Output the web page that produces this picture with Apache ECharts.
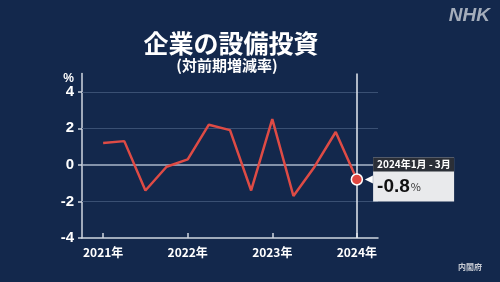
<!DOCTYPE html>
<html><head><meta charset="utf-8">
<script src="https://cdn.jsdelivr.net/npm/echarts@6/dist/echarts.min.js"></script>
<style>html,body{margin:0;padding:0;background:#13284c;}#c{width:500px;height:282px;}</style>
</head><body><div id="c"></div>
<script>
// quarter index: 0 = 2021 Jan-Mar ... 12 = 2024 Jan-Mar
const quarters = [0,1,2,3,4,5,6,7,8,9,10,11,12];
const values = [1.2, 1.3, -1.4, -0.1, 0.3, 2.2, 1.9, -1.4, 2.5, -1.7, -0.1, 1.8, -0.8];
const yearTicks = [0, 4, 8, 12];
const yearLabels = ['2021年', '2022年', '2023年', '2024年'];
const yTicks = [-4, -2, 0, 2, 4];
const lastLabel = '2024年1月 - 3月';

const FONT = '"Noto Sans CJK JP", "Liberation Sans", sans-serif';
const chart = echarts.init(document.getElementById('c'), null, {renderer: 'canvas'});
const last = values.length - 1;
const data = quarters.map((q, i) => {
  const p = {value: [q, values[i]]};
  if (i === last) {
    p.symbol = 'circle';
    p.symbolSize = 11;
    p.itemStyle = {color: '#e0463f', borderColor: '#ffffff', borderWidth: 1.5};
    p.label = {
      show: true, position: 'right', distance: 10,
      backgroundColor: '#e9eaec', padding: 0,
      formatter: '{h|' + lastLabel + '}\n{v|' + values[i].toFixed(1) + '}{p|%}',
      rich: {
        h: {backgroundColor: '#2b2f37', color: '#ffffff', fontSize: 10, fontWeight: 'bold',
            fontFamily: FONT, width: 73, height: 14, lineHeight: 14, padding: [0, 4]},
        v: {color: '#111111', fontSize: 19, fontWeight: 'bold', fontFamily: '"Liberation Sans", sans-serif',
            height: 24, lineHeight: 24, padding: [0, 0, 0, 4]},
        p: {color: '#333333', fontSize: 11, fontFamily: FONT, height: 24, lineHeight: 30, padding: [0, 32, 0, 1]}
      }
    };
  }
  return p;
});

chart.setOption({
  backgroundColor: '#13284c',
  animation: false,
  title: [
    {text: '企業の設備投資', left: 226, top: 26, textAlign: 'center',
     textStyle: {color: '#ffffff', fontSize: 25, fontWeight: 'bold', fontFamily: FONT}},
    {text: '(対前期増減率)', left: 222, top: 53, textAlign: 'center',
     textStyle: {color: '#ffffff', fontSize: 15, fontWeight: 'bold', fontFamily: FONT}},
    {text: 'NHK', right: 5, top: 1,
     textStyle: {color: '#a4adbb', fontSize: 19, fontWeight: 'bold', fontStyle: 'italic', fontFamily: '"Liberation Sans", sans-serif'}},
    {text: '内閣府', left: 453, top: 258,
     textStyle: {color: '#c8ccd4', fontSize: 8, fontWeight: 'bold', fontFamily: FONT}}
  ],
  grid: {left: 82, right: 122, top: 73.5, bottom: 44},
  xAxis: {
    type: 'value', min: -1, max: 13,
    axisLine: {show: true, onZero: false, lineStyle: {color: '#d0d6e0', width: 1.5}},
    axisTick: {show: true, customValues: yearTicks, inside: true, length: 5, lineStyle: {color: '#d0d6e0', width: 1.5}},
    axisLabel: {customValues: yearTicks, color: '#ffffff', fontSize: 12, fontWeight: 'bold', fontFamily: FONT, margin: 8,
      formatter: v => yearLabels[yearTicks.indexOf(v)]},
    splitLine: {show: false}
  },
  yAxis: {
    type: 'value', min: -4, max: 5,
    name: '%', nameLocation: 'end', nameGap: 0,
    nameTextStyle: {color: '#ffffff', fontSize: 12, fontWeight: 'bold', align: 'right', padding: [0, 8, 0, 0], verticalAlign: 'top'},
    axisLine: {show: true, onZero: false, lineStyle: {color: '#d0d6e0', width: 1.5}},
    axisTick: {show: true, customValues: yTicks, length: 4, lineStyle: {color: '#d0d6e0', width: 1.5}},
    axisLabel: {customValues: yTicks, color: '#ffffff', fontSize: 15, fontWeight: 'bold', fontFamily: '"Liberation Sans", sans-serif', margin: 8},
    splitLine: {show: false}
  },
  series: [{
    type: 'line',
    data: data,
    symbol: 'none',
    lineStyle: {color: '#de4b45', width: 2.5},
    z: 5,
    markLine: {
      silent: true, symbol: 'none', label: {show: false}, animation: false,
      data: [
        {yAxis: 4, lineStyle: {color: '#3a5073', width: 1, type: 'solid'}},
        {yAxis: 2, lineStyle: {color: '#3a5073', width: 1, type: 'solid'}},
        {yAxis: -2, lineStyle: {color: '#3a5073', width: 1, type: 'solid'}},
        {yAxis: 0, lineStyle: {color: '#aab6c8', width: 1.5, type: 'solid'}},
        {xAxis: quarters[last], lineStyle: {color: '#e6eaf0', width: 1.5, type: 'solid'}}
      ]
    },
    markPoint: {
      silent: true, animation: false,
      data: [{coord: [quarters[last], values[last]], symbol: 'triangle', symbolRotate: 90,
              symbolSize: [8, 8], symbolOffset: [12, 0], itemStyle: {color: '#ffffff'}, label: {show: false}}]
    }
  }]
});
</script></body></html>
